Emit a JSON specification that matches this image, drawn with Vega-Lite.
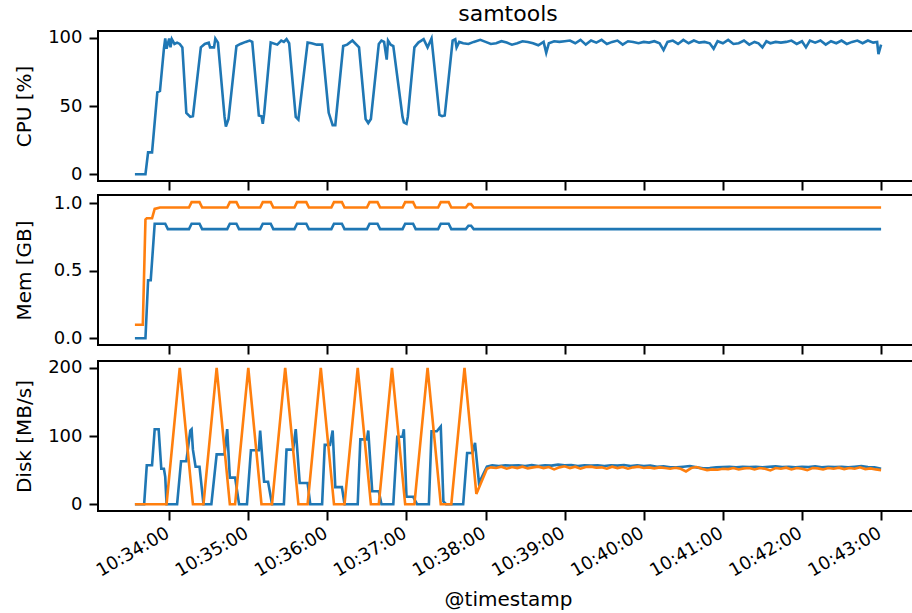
{
  "$schema": "https://vega.github.io/schema/vega-lite/v6.json",
  "padding": {"left": 13, "top": 1, "right": 0, "bottom": 0},
  "spacing": 1,
  "config": {
    "font": "DejaVu Sans",
    "view": {"stroke": "#000000", "strokeWidth": 2},
    "axis": {"domain": false, "grid": false, "tickColor": "#000000", "tickWidth": 2, "tickSize": 9, "labelFontSize": 18, "labelColor": "#000000", "labelPadding": 4, "titleFontSize": 20, "titleFontWeight": "normal", "titleColor": "#000000"},
    "axisY": {"titlePadding": 13, "labelPadding": 7},
    "line": {"strokeWidth": 2.6}
  },
  "vconcat": [
    {
      "title": {"text": "samtools", "fontSize": 22, "fontWeight": "normal", "color": "#000000", "offset": 3},
      "width": 820,
      "height": 150,
      "data": {
        "format": {"parse": {"t": "date:'%H:%M:%S'"}},
        "values": [
          {"t":"10:33:34","v":0},{"t":"10:33:42","v":0},{"t":"10:33:44","v":16},{"t":"10:33:47","v":16},{"t":"10:33:51","v":60},{"t":"10:33:53","v":61},{"t":"10:33:56","v":92},{"t":"10:33:57","v":99.5},{"t":"10:33:58","v":92},{"t":"10:34:00","v":99.5},{"t":"10:34:01","v":93},{"t":"10:34:02","v":99},{"t":"10:34:04","v":95.5},{"t":"10:34:06","v":96.5},{"t":"10:34:08","v":95.5},{"t":"10:34:10","v":93},{"t":"10:34:13","v":45},{"t":"10:34:16","v":42},{"t":"10:34:18","v":42.5},{"t":"10:34:24","v":93},{"t":"10:34:27","v":95.5},{"t":"10:34:30","v":96.5},{"t":"10:34:31","v":93},{"t":"10:34:34","v":93},{"t":"10:34:35","v":99.5},{"t":"10:34:37","v":96.5},{"t":"10:34:42","v":42},{"t":"10:34:43","v":35},{"t":"10:34:45","v":40.5},{"t":"10:34:51","v":94},{"t":"10:34:54","v":95.5},{"t":"10:34:58","v":97},{"t":"10:35:01","v":98},{"t":"10:35:03","v":97},{"t":"10:35:08","v":43},{"t":"10:35:10","v":42.5},{"t":"10:35:11","v":37},{"t":"10:35:12","v":44},{"t":"10:35:17","v":96.5},{"t":"10:35:22","v":95},{"t":"10:35:25","v":98},{"t":"10:35:27","v":97},{"t":"10:35:29","v":99},{"t":"10:35:31","v":96},{"t":"10:35:36","v":42},{"t":"10:35:38","v":40},{"t":"10:35:45","v":96.5},{"t":"10:35:48","v":96},{"t":"10:35:52","v":95},{"t":"10:35:56","v":95},{"t":"10:36:01","v":45},{"t":"10:36:04","v":36},{"t":"10:36:06","v":36},{"t":"10:36:12","v":94},{"t":"10:36:15","v":95},{"t":"10:36:19","v":98},{"t":"10:36:24","v":93},{"t":"10:36:29","v":40.5},{"t":"10:36:31","v":37.5},{"t":"10:36:33","v":40.5},{"t":"10:36:39","v":95.5},{"t":"10:36:41","v":98},{"t":"10:36:43","v":97},{"t":"10:36:45","v":84},{"t":"10:36:46","v":98},{"t":"10:36:48","v":95},{"t":"10:36:50","v":94},{"t":"10:36:57","v":42},{"t":"10:36:58","v":38},{"t":"10:37:00","v":37},{"t":"10:37:01","v":42},{"t":"10:37:06","v":93},{"t":"10:37:09","v":96.5},{"t":"10:37:13","v":99},{"t":"10:37:16","v":93},{"t":"10:37:19","v":99.5},{"t":"10:37:20","v":90},{"t":"10:37:25","v":43.5},{"t":"10:37:27","v":42.5},{"t":"10:37:29","v":43},{"t":"10:37:35","v":98},{"t":"10:37:37","v":99},{"t":"10:37:38","v":93},{"t":"10:37:40","v":97},{"t":"10:37:43","v":96},{"t":"10:37:47","v":95.5},{"t":"10:37:51","v":97},{"t":"10:37:56","v":98.5},
          {"t":"10:38:00","v":97},{"t":"10:38:04","v":95.5},{"t":"10:38:08","v":96},{"t":"10:38:12","v":97.5},{"t":"10:38:16","v":96.5},{"t":"10:38:20","v":95},{"t":"10:38:24","v":96},{"t":"10:38:28","v":97.5},{"t":"10:38:32","v":97},{"t":"10:38:36","v":96},{"t":"10:38:40","v":94.5},{"t":"10:38:44","v":97},{"t":"10:38:46","v":89},{"t":"10:38:48","v":96},{"t":"10:38:52","v":97.5},{"t":"10:38:56","v":97},{"t":"10:39:00","v":97.5},{"t":"10:39:04","v":98},{"t":"10:39:08","v":96},{"t":"10:39:12","v":98.5},{"t":"10:39:16","v":95},{"t":"10:39:20","v":98},{"t":"10:39:24","v":96.5},{"t":"10:39:28","v":98.5},{"t":"10:39:32","v":95.5},{"t":"10:39:36","v":97},{"t":"10:39:40","v":98},{"t":"10:39:44","v":95},{"t":"10:39:48","v":97.5},{"t":"10:39:52","v":97},{"t":"10:39:56","v":96},{"t":"10:40:00","v":97},{"t":"10:40:04","v":96.5},{"t":"10:40:08","v":97.5},{"t":"10:40:12","v":96},{"t":"10:40:15","v":91},{"t":"10:40:18","v":97},{"t":"10:40:22","v":98},{"t":"10:40:26","v":95.5},{"t":"10:40:30","v":98.5},{"t":"10:40:34","v":96},{"t":"10:40:38","v":98},{"t":"10:40:42","v":96.5},{"t":"10:40:46","v":97},{"t":"10:40:50","v":96},{"t":"10:40:53","v":92},{"t":"10:40:56","v":97.5},{"t":"10:41:00","v":96},{"t":"10:41:04","v":98.5},{"t":"10:41:08","v":95.5},{"t":"10:41:12","v":96},{"t":"10:41:16","v":98},{"t":"10:41:20","v":95},{"t":"10:41:24","v":97},{"t":"10:41:27","v":96},{"t":"10:41:30","v":93},{"t":"10:41:33","v":97.5},{"t":"10:41:36","v":96},{"t":"10:41:40","v":97},{"t":"10:41:44","v":96.5},{"t":"10:41:48","v":97},{"t":"10:41:52","v":98},{"t":"10:41:56","v":95.5},{"t":"10:42:00","v":97.5},{"t":"10:42:03","v":93},{"t":"10:42:06","v":98},{"t":"10:42:10","v":96.5},{"t":"10:42:14","v":98},{"t":"10:42:18","v":95},{"t":"10:42:22","v":97.5},{"t":"10:42:26","v":96},{"t":"10:42:30","v":98},{"t":"10:42:34","v":95.5},{"t":"10:42:38","v":97},{"t":"10:42:42","v":98},{"t":"10:42:46","v":96},{"t":"10:42:50","v":98},{"t":"10:42:54","v":96.5},{"t":"10:42:57","v":97},{"t":"10:42:58","v":88},{"t":"10:43:00","v":95}
        ]
      },
      "mark": {"type": "line", "color": "#1f77b4"},
      "encoding": {
        "x": {"field": "t", "type": "temporal", "scale": {"domain": [{"year": 1900, "month": 1, "date": 1, "hours": 10, "minutes": 33, "seconds": 6}, {"year": 1900, "month": 1, "date": 1, "hours": 10, "minutes": 43, "seconds": 28}], "nice": false}, "axis": {"labels": false, "title": null, "tickCount": 10}},
        "y": {"field": "v", "type": "quantitative", "scale": {"domain": [-5, 105], "nice": false, "zero": false}, "axis": {"values": [0, 50, 100], "title": "CPU [%]"}}
      }
    },
    {
      "width": 820,
      "height": 150,
      "encoding": {
        "x": {"field": "t", "type": "temporal", "scale": {"domain": [{"year": 1900, "month": 1, "date": 1, "hours": 10, "minutes": 33, "seconds": 6}, {"year": 1900, "month": 1, "date": 1, "hours": 10, "minutes": 43, "seconds": 28}], "nice": false}, "axis": {"labels": false, "title": null, "tickCount": 10}},
        "y": {"field": "v", "type": "quantitative", "scale": {"domain": [-0.05, 1.063], "nice": false, "zero": false}, "axis": {"values": [0, 0.5, 1], "format": ".1f", "title": "Mem [GB]", "titlePadding": 19}}
      },
      "layer": [
        {
          "data": {
            "format": {"parse": {"t": "date:'%H:%M:%S'"}},
            "values": [
              {"t":"10:33:34","v":0.0},{"t":"10:33:42","v":0.0},{"t":"10:33:44","v":0.43},{"t":"10:33:46","v":0.43},{"t":"10:33:49","v":0.85},{"t":"10:33:57","v":0.85},{"t":"10:33:59","v":0.81},{"t":"10:34:15","v":0.81},{"t":"10:34:17","v":0.85},{"t":"10:34:23","v":0.85},{"t":"10:34:25","v":0.81},{"t":"10:34:44","v":0.81},{"t":"10:34:46","v":0.85},{"t":"10:34:51","v":0.85},{"t":"10:34:53","v":0.81},{"t":"10:35:09","v":0.81},{"t":"10:35:11","v":0.85},{"t":"10:35:17","v":0.85},{"t":"10:35:19","v":0.81},{"t":"10:35:35","v":0.81},{"t":"10:35:37","v":0.85},{"t":"10:35:44","v":0.85},{"t":"10:35:46","v":0.81},{"t":"10:36:03","v":0.81},{"t":"10:36:05","v":0.85},{"t":"10:36:11","v":0.85},{"t":"10:36:13","v":0.81},{"t":"10:36:30","v":0.81},{"t":"10:36:32","v":0.85},{"t":"10:36:38","v":0.85},{"t":"10:36:40","v":0.81},{"t":"10:36:57","v":0.81},{"t":"10:36:59","v":0.85},{"t":"10:37:05","v":0.85},{"t":"10:37:07","v":0.81},{"t":"10:37:24","v":0.81},{"t":"10:37:26","v":0.85},{"t":"10:37:32","v":0.85},{"t":"10:37:34","v":0.81},{"t":"10:37:45","v":0.81},{"t":"10:37:47","v":0.835},{"t":"10:37:49","v":0.835},{"t":"10:37:51","v":0.81},{"t":"10:43:00","v":0.81}
            ]
          },
          "mark": {"type": "line", "color": "#1f77b4"}
        },
        {
          "data": {
            "format": {"parse": {"t": "date:'%H:%M:%S'"}},
            "values": [
              {"t":"10:33:34","v":0.1},{"t":"10:33:40","v":0.1},{"t":"10:33:42","v":0.88},{"t":"10:33:43","v":0.89},{"t":"10:33:47","v":0.89},{"t":"10:33:49","v":0.96},{"t":"10:33:53","v":0.97},{"t":"10:34:15","v":0.97},{"t":"10:34:17","v":1.01},{"t":"10:34:23","v":1.01},{"t":"10:34:25","v":0.97},{"t":"10:34:44","v":0.97},{"t":"10:34:46","v":1.01},{"t":"10:34:51","v":1.01},{"t":"10:34:53","v":0.97},{"t":"10:35:09","v":0.97},{"t":"10:35:11","v":1.01},{"t":"10:35:17","v":1.01},{"t":"10:35:19","v":0.97},{"t":"10:35:35","v":0.97},{"t":"10:35:37","v":1.01},{"t":"10:35:44","v":1.01},{"t":"10:35:46","v":0.97},{"t":"10:36:03","v":0.97},{"t":"10:36:05","v":1.01},{"t":"10:36:11","v":1.01},{"t":"10:36:13","v":0.97},{"t":"10:36:30","v":0.97},{"t":"10:36:32","v":1.01},{"t":"10:36:38","v":1.01},{"t":"10:36:40","v":0.97},{"t":"10:36:57","v":0.97},{"t":"10:36:59","v":1.01},{"t":"10:37:05","v":1.01},{"t":"10:37:07","v":0.97},{"t":"10:37:24","v":0.97},{"t":"10:37:26","v":1.01},{"t":"10:37:32","v":1.01},{"t":"10:37:34","v":0.97},{"t":"10:37:45","v":0.97},{"t":"10:37:47","v":0.995},{"t":"10:37:49","v":0.995},{"t":"10:37:51","v":0.97},{"t":"10:43:00","v":0.97}
            ]
          },
          "mark": {"type": "line", "color": "#ff7f0e"}
        }
      ]
    },
    {
      "width": 820,
      "height": 150,
      "encoding": {
        "x": {"field": "t", "type": "temporal", "scale": {"domain": [{"year": 1900, "month": 1, "date": 1, "hours": 10, "minutes": 33, "seconds": 6}, {"year": 1900, "month": 1, "date": 1, "hours": 10, "minutes": 43, "seconds": 28}], "nice": false}, "axis": {"format": "%H:%M:%S", "labelAngle": -30, "labelOffset": -6, "labelOverlap": false, "title": "@timestamp", "titlePadding": 9, "tickCount": 10}},
        "y": {"field": "v", "type": "quantitative", "scale": {"domain": [-10, 210], "nice": false, "zero": false}, "axis": {"values": [0, 100, 200], "title": "Disk [MB/s]"}}
      },
      "layer": [
        {
          "data": {
            "format": {"parse": {"t": "date:'%H:%M:%S'"}},
            "values": [
              {"t":"10:33:34","v":0},{"t":"10:33:41","v":0},{"t":"10:33:43","v":57},{"t":"10:33:47","v":57},{"t":"10:33:49","v":110},{"t":"10:33:52","v":110},{"t":"10:33:54","v":52},{"t":"10:33:56","v":52},{"t":"10:33:57","v":40},{"t":"10:33:58","v":0},{"t":"10:34:06","v":0},{"t":"10:34:09","v":63},{"t":"10:34:13","v":63},{"t":"10:34:16","v":108},{"t":"10:34:17","v":110},{"t":"10:34:18","v":80},{"t":"10:34:20","v":55},{"t":"10:34:23","v":55},{"t":"10:34:26","v":0},{"t":"10:34:32","v":0},{"t":"10:34:36","v":73},{"t":"10:34:42","v":73},{"t":"10:34:44","v":110},{"t":"10:34:46","v":39},{"t":"10:34:50","v":39},{"t":"10:34:53","v":0},{"t":"10:34:59","v":0},{"t":"10:35:02","v":79},{"t":"10:35:08","v":79},{"t":"10:35:09","v":108},{"t":"10:35:12","v":33},{"t":"10:35:15","v":33},{"t":"10:35:18","v":0},{"t":"10:35:27","v":0},{"t":"10:35:29","v":80},{"t":"10:35:34","v":80},{"t":"10:35:36","v":110},{"t":"10:35:39","v":31},{"t":"10:35:45","v":31},{"t":"10:35:47","v":0},{"t":"10:35:56","v":0},{"t":"10:35:58","v":87},{"t":"10:36:02","v":87},{"t":"10:36:04","v":108},{"t":"10:36:06","v":25},{"t":"10:36:11","v":25},{"t":"10:36:13","v":0},{"t":"10:36:23","v":0},{"t":"10:36:25","v":95},{"t":"10:36:30","v":95},{"t":"10:36:31","v":108},{"t":"10:36:34","v":19},{"t":"10:36:39","v":19},{"t":"10:36:41","v":0},{"t":"10:36:50","v":0},{"t":"10:36:53","v":99},{"t":"10:36:57","v":99},{"t":"10:36:58","v":110},{"t":"10:37:00","v":11},{"t":"10:37:05","v":11},{"t":"10:37:08","v":0},{"t":"10:37:17","v":0},{"t":"10:37:19","v":107},{"t":"10:37:23","v":107},{"t":"10:37:26","v":114},{"t":"10:37:28","v":4},{"t":"10:37:30","v":0},{"t":"10:37:43","v":0},{"t":"10:37:46","v":75},{"t":"10:37:50","v":75},{"t":"10:37:52","v":90},{"t":"10:37:55","v":31},{"t":"10:38:01","v":55},
              {"t":"10:38:05","v":57},{"t":"10:38:10","v":56},{"t":"10:38:15","v":57},{"t":"10:38:20","v":56.5},{"t":"10:38:25","v":57},{"t":"10:38:30","v":56},{"t":"10:38:35","v":57.5},{"t":"10:38:40","v":56},{"t":"10:38:45","v":57},{"t":"10:38:50","v":56.5},{"t":"10:38:55","v":58},{"t":"10:39:00","v":57},{"t":"10:39:05","v":57.5},{"t":"10:39:10","v":56},{"t":"10:39:15","v":57},{"t":"10:39:20","v":56.5},{"t":"10:39:25","v":57},{"t":"10:39:30","v":56},{"t":"10:39:35","v":57},{"t":"10:39:40","v":56.5},{"t":"10:39:45","v":57.5},{"t":"10:39:50","v":56},{"t":"10:39:55","v":57},{"t":"10:40:00","v":56},{"t":"10:40:05","v":56.5},{"t":"10:40:10","v":55},{"t":"10:40:15","v":55.5},{"t":"10:40:20","v":54},{"t":"10:40:25","v":54},{"t":"10:40:30","v":55},{"t":"10:40:35","v":56},{"t":"10:40:40","v":54},{"t":"10:40:45","v":52.5},{"t":"10:40:50","v":53},{"t":"10:40:55","v":54},{"t":"10:41:00","v":54.5},{"t":"10:41:05","v":55},{"t":"10:41:10","v":54},{"t":"10:41:15","v":55},{"t":"10:41:20","v":54.5},{"t":"10:41:25","v":55},{"t":"10:41:30","v":54},{"t":"10:41:35","v":55},{"t":"10:41:40","v":55.5},{"t":"10:41:45","v":54.5},{"t":"10:41:50","v":55},{"t":"10:41:55","v":54},{"t":"10:42:00","v":55},{"t":"10:42:05","v":54.5},{"t":"10:42:10","v":55.5},{"t":"10:42:15","v":54},{"t":"10:42:20","v":55},{"t":"10:42:25","v":54.5},{"t":"10:42:30","v":55},{"t":"10:42:35","v":54},{"t":"10:42:40","v":55},{"t":"10:42:45","v":56},{"t":"10:42:50","v":54.5},{"t":"10:42:55","v":54},{"t":"10:43:00","v":52}
            ]
          },
          "mark": {"type": "line", "color": "#1f77b4"}
        },
        {
          "data": {
            "format": {"parse": {"t": "date:'%H:%M:%S'"}},
            "values": [
              {"t":"10:33:34","v":0},{"t":"10:33:58","v":0},{"t":"10:34:08","v":200},{"t":"10:34:18","v":0},{"t":"10:34:26","v":0},{"t":"10:34:36","v":200},{"t":"10:34:46","v":0},{"t":"10:34:50","v":0},{"t":"10:35:00","v":200},{"t":"10:35:10","v":0},{"t":"10:35:18","v":0},{"t":"10:35:28","v":200},{"t":"10:35:38","v":0},{"t":"10:35:45","v":0},{"t":"10:35:55","v":200},{"t":"10:36:05","v":0},{"t":"10:36:13","v":0},{"t":"10:36:23","v":200},{"t":"10:36:33","v":0},{"t":"10:36:39","v":0},{"t":"10:36:49","v":200},{"t":"10:36:59","v":0},{"t":"10:37:06","v":0},{"t":"10:37:16","v":200},{"t":"10:37:26","v":0},{"t":"10:37:34","v":0},{"t":"10:37:44","v":200},{"t":"10:37:53","v":15},{"t":"10:38:01","v":52},
              {"t":"10:38:04","v":54},{"t":"10:38:08","v":53},{"t":"10:38:12","v":55},{"t":"10:38:16","v":52},{"t":"10:38:20","v":54.5},{"t":"10:38:24","v":53},{"t":"10:38:28","v":55},{"t":"10:38:32","v":52.5},{"t":"10:38:36","v":54},{"t":"10:38:40","v":55},{"t":"10:38:44","v":53},{"t":"10:38:48","v":54.5},{"t":"10:38:52","v":51},{"t":"10:38:56","v":54},{"t":"10:39:00","v":55.5},{"t":"10:39:04","v":53},{"t":"10:39:08","v":55},{"t":"10:39:12","v":52},{"t":"10:39:16","v":54.5},{"t":"10:39:20","v":55},{"t":"10:39:24","v":53.5},{"t":"10:39:28","v":54},{"t":"10:39:32","v":52},{"t":"10:39:36","v":55},{"t":"10:39:40","v":53},{"t":"10:39:44","v":54.5},{"t":"10:39:48","v":52},{"t":"10:39:52","v":54},{"t":"10:39:56","v":55},{"t":"10:40:00","v":53},{"t":"10:40:04","v":54},{"t":"10:40:08","v":52.5},{"t":"10:40:12","v":54},{"t":"10:40:16","v":53},{"t":"10:40:20","v":52},{"t":"10:40:24","v":53.5},{"t":"10:40:28","v":52},{"t":"10:40:32","v":48},{"t":"10:40:36","v":53},{"t":"10:40:40","v":54.5},{"t":"10:40:44","v":52},{"t":"10:40:48","v":50},{"t":"10:40:52","v":51},{"t":"10:40:56","v":50.5},{"t":"10:41:00","v":52},{"t":"10:41:04","v":51.5},{"t":"10:41:08","v":53},{"t":"10:41:12","v":51},{"t":"10:41:16","v":52.5},{"t":"10:41:20","v":53},{"t":"10:41:24","v":51},{"t":"10:41:28","v":53},{"t":"10:41:32","v":52},{"t":"10:41:36","v":49.5},{"t":"10:41:40","v":53},{"t":"10:41:44","v":52},{"t":"10:41:48","v":53.5},{"t":"10:41:52","v":51},{"t":"10:41:56","v":53},{"t":"10:42:00","v":52},{"t":"10:42:04","v":50},{"t":"10:42:08","v":53},{"t":"10:42:12","v":52.5},{"t":"10:42:16","v":51},{"t":"10:42:20","v":53},{"t":"10:42:24","v":52},{"t":"10:42:28","v":53.5},{"t":"10:42:32","v":51.5},{"t":"10:42:36","v":53},{"t":"10:42:40","v":52},{"t":"10:42:44","v":54},{"t":"10:42:48","v":51.5},{"t":"10:42:52","v":52.5},{"t":"10:42:56","v":51},{"t":"10:43:00","v":50}
            ]
          },
          "mark": {"type": "line", "color": "#ff7f0e"}
        }
      ]
    }
  ]
}
